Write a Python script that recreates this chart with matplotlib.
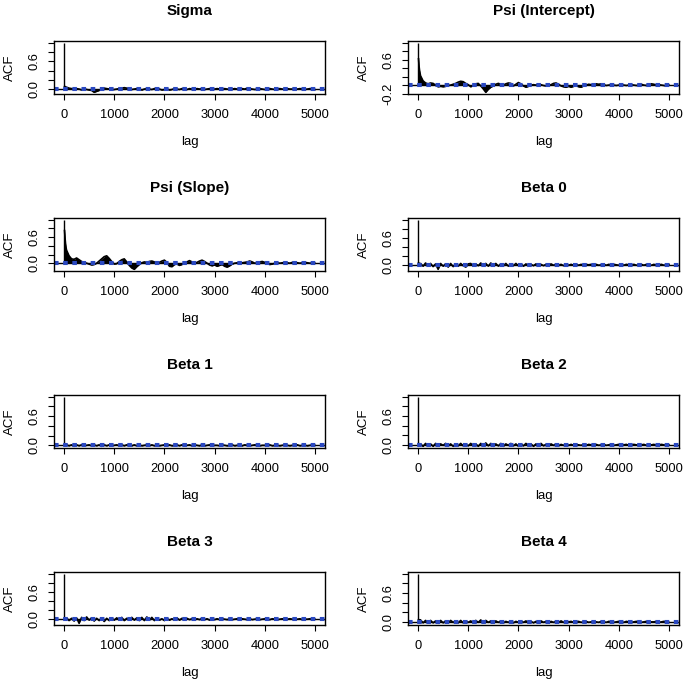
import matplotlib

matplotlib.use("Agg")
import matplotlib.pyplot as plt  # noqa: E402
import numpy as np  # noqa: E402

plt.rcParams["font.family"] = ["Liberation Sans", "DejaVu Sans"]

# lag grid: fine steps at the start, then every 50 lags up to 5000
LAGS = [0, 10, 20, 30, 40] + list(range(50, 5001, 50))

# ACF values (head = lags 0..40, then rows of 1000 lags)
acf_sigma = [1.0, 0.06, 0.05, 0.05, 0.04,
             0.04, 0.02, 0.01, -0.01, 0.01, 0.0, -0.02, 0.01, -0.01, -0.02, -0.03, -0.07, -0.05, -0.03, 0.0, 0.02, 0.01, 0.0, -0.01, -0.01,
             0.0, 0.01, 0.02, 0.03, 0.02, 0.01, -0.01, 0.0, 0.01, 0.0, -0.02, 0.0, 0.01, 0.0, -0.01, 0.01, 0.02, 0.0, -0.02, -0.01,
             0.0, -0.02, -0.01, 0.01, 0.0, -0.01, 0.01, 0.0, -0.01, 0.01, 0.0, -0.01, 0.01, 0.0, 0.01, -0.01, 0.0, 0.01, -0.01, 0.0,
             0.01, 0.0, -0.01, 0.01, 0.0, -0.01, 0.0, 0.01, 0.0, -0.01, 0.01, 0.0, 0.02, 0.01, 0.0, -0.01, 0.0, 0.01, 0.0, -0.01,
             0.0, 0.01, 0.0, -0.01, 0.0, 0.01, 0.0, -0.01, 0.01, 0.0, 0.0, -0.01, 0.0, 0.01, 0.0, -0.01, 0.0, 0.01, 0.0, -0.01]
acf_psi_int = [1.0, 0.62, 0.45, 0.35, 0.28,
               0.22, 0.1, 0.05, 0.03, 0.05, 0.04, 0.0, -0.04, -0.03, -0.04, -0.03, -0.01, 0.0, 0.02, 0.04, 0.07, 0.09, 0.08, 0.04, 0.01,
               -0.04, -0.01, 0.03, 0.04, -0.02, -0.09, -0.17, -0.1, -0.05, -0.02, 0.02, 0.04, 0.02, 0.0, 0.03, 0.05, 0.04, -0.02, 0.02, 0.06,
               0.03, -0.02, -0.05, -0.03, 0.0, 0.01, 0.0, 0.02, 0.01, -0.01, -0.02, -0.02, 0.01, 0.04, 0.05, 0.02, -0.02, -0.04, -0.05, -0.03,
               -0.05, -0.03, -0.01, -0.04, -0.05, -0.02, 0.0, 0.02, 0.01, 0.02, 0.03, 0.02, 0.03, 0.01, -0.01, 0.0, 0.01, 0.0, -0.01, 0.0,
               0.01, 0.0, -0.01, 0.0, 0.01, 0.0, -0.01, 0.0, 0.02, 0.0, -0.01, 0.02, 0.03, 0.02, 0.0, 0.01, 0.0, -0.01, -0.02, 0.0]
acf_psi_slope = [1.0, 0.75, 0.58, 0.45, 0.36,
                 0.3, 0.17, 0.1, 0.09, 0.12, 0.08, 0.04, 0.02, 0.0, -0.02, -0.04, -0.03, 0.0, 0.05, 0.1, 0.15, 0.17, 0.11, 0.04, -0.02,
                 -0.01, 0.04, 0.08, 0.1, 0.03, -0.05, -0.11, -0.14, -0.08, -0.03, 0.01, 0.03, 0.02, 0.04, 0.05, 0.03, 0.0, 0.02, 0.05, 0.07,
                 0.02, -0.07, -0.08, -0.03, -0.02, -0.05, -0.03, 0.01, 0.03, 0.06, 0.03, 0.0, 0.02, 0.05, 0.07, 0.04, 0.0, -0.04, -0.06, -0.04,
                 -0.07, -0.05, -0.03, -0.07, -0.09, -0.06, -0.02, 0.0, 0.01, 0.0, 0.01, 0.02, 0.03, 0.05, 0.03, 0.0, 0.01, 0.03, 0.04, 0.02,
                 -0.01, -0.03, -0.02, 0.0, 0.01, 0.0, 0.01, 0.02, 0.01, 0.0, 0.02, 0.03, 0.01, 0.0, 0.01, 0.02, 0.01, 0.0, 0.01, 0.0]
acf_beta0 = [1.0, 0.04, -0.02, 0.03, 0.01,
             0.03, -0.03, 0.04, -0.02, 0.03, -0.04, 0.02, -0.10, 0.03, -0.03, 0.02, -0.05, 0.03, -0.04, 0.02, -0.03, 0.03, -0.02, -0.05, 0.02,
             0.03, -0.03, 0.02, -0.02, 0.04, -0.02, 0.03, -0.03, 0.04, -0.02, 0.03, -0.03, 0.02, -0.02, 0.03, -0.03, 0.02, -0.02, 0.03, -0.02,
             0.02, -0.03, 0.02, -0.02, 0.01, -0.02, 0.02, -0.01, 0.01, -0.02, 0.01, -0.01, 0.02, -0.01, 0.01, -0.01, 0.01, -0.02, 0.01, -0.01,
             0.01, -0.01, 0.01, -0.01, 0.01, -0.01, 0.01, 0.0, 0.01, -0.01, 0.01, -0.01, 0.0, 0.01, -0.01, 0.01, -0.01, 0.01, 0.0, -0.01,
             0.01, -0.01, 0.01, 0.0, -0.01, 0.01, -0.01, 0.0, 0.01, -0.01, 0.01, 0.0, -0.01, 0.01, -0.01, 0.0, 0.01, -0.01, 0.0, 0.01]
acf_beta1 = [1.0, 0.02, 0.01, -0.01, 0.01,
             0.01, -0.01, 0.01, -0.02, 0.01, -0.01, 0.01, -0.01, 0.0, 0.01, -0.01, 0.01, -0.01, 0.01, -0.02, 0.01, -0.01, 0.01, -0.01, 0.0,
             0.01, -0.01, 0.01, -0.01, 0.01, 0.0, -0.01, 0.01, -0.01, 0.01, -0.01, 0.0, 0.01, -0.01, 0.01, -0.01, 0.01, -0.01, 0.0, 0.01,
             -0.01, 0.01, -0.01, 0.0, 0.01, -0.01, 0.01, -0.01, 0.0, 0.01, -0.01, 0.01, 0.0, -0.01, 0.01, -0.01, 0.0, 0.01, -0.01, 0.0,
             0.0, -0.01, 0.01, 0.0, -0.01, 0.0, 0.01, -0.01, 0.0, 0.0, -0.01, 0.01, 0.0, -0.01, 0.0, 0.01, 0.0, -0.01, 0.0, 0.0,
             0.0, 0.01, -0.01, 0.0, 0.0, -0.01, 0.0, 0.01, 0.0, -0.01, 0.0, 0.0, 0.01, -0.01, 0.0, 0.0, -0.01, 0.0, 0.01, 0.0]
acf_beta2 = [1.0, 0.03, 0.01, 0.02, -0.01,
             0.02, -0.03, 0.03, -0.02, 0.02, -0.03, 0.03, -0.02, 0.02, -0.01, 0.03, -0.02, 0.02, -0.03, 0.02, -0.02, 0.03, -0.02, 0.01, -0.02,
             0.03, -0.02, 0.02, -0.03, 0.03, -0.02, 0.04, -0.02, 0.03, -0.03, 0.02, -0.02, 0.03, -0.03, 0.02, -0.01, 0.03, -0.02, 0.02, -0.03,
             0.02, -0.02, 0.03, -0.02, 0.02, -0.03, 0.02, -0.02, 0.03, -0.02, 0.01, -0.02, 0.02, -0.01, 0.02, -0.02, 0.01, -0.01, 0.02, -0.01,
             0.01, -0.01, 0.01, 0.0, -0.01, 0.01, -0.01, 0.01, 0.0, -0.01, 0.01, -0.01, 0.0, 0.01, -0.01, 0.0, 0.01, -0.01, 0.0, 0.01,
             -0.01, 0.0, 0.01, -0.01, 0.0, 0.01, 0.0, -0.01, 0.0, 0.01, -0.01, 0.0, 0.0, 0.01, -0.01, 0.0, 0.01, 0.0, -0.01, 0.0]
acf_beta3 = [1.0, 0.02, -0.02, 0.03, -0.01,
             0.03, -0.03, 0.02, -0.04, 0.03, -0.09, 0.04, -0.03, 0.05, -0.02, 0.03, -0.04, 0.02, -0.03, 0.03, -0.05, 0.02, -0.03, 0.02, -0.02,
             0.03, -0.02, 0.04, -0.03, 0.02, -0.02, 0.04, -0.02, 0.03, -0.03, 0.04, -0.03, 0.05, -0.02, 0.04, -0.03, 0.02, -0.02, 0.01, -0.03,
             0.02, -0.02, 0.01, -0.02, 0.03, -0.02, 0.02, -0.01, 0.02, -0.01, 0.01, -0.02, 0.01, -0.01, 0.02, -0.01, 0.01, -0.02, 0.01, -0.01,
             0.01, -0.01, 0.01, 0.0, -0.01, 0.01, -0.01, 0.0, 0.01, -0.01, 0.01, 0.0, -0.01, 0.01, -0.01, 0.0, 0.01, -0.01, 0.0, 0.01,
             0.0, -0.01, 0.01, 0.0, -0.01, 0.0, 0.01, -0.01, 0.0, 0.01, 0.0, -0.01, 0.0, 0.01, -0.01, 0.0, 0.0, 0.01, -0.01, 0.0]
acf_beta4 = [1.0, 0.05, 0.03, 0.04, 0.02,
             0.04, -0.02, 0.03, -0.02, 0.03, -0.02, 0.02, -0.03, 0.03, -0.02, 0.02, -0.02, 0.03, -0.01, 0.02, -0.02, 0.03, -0.02, 0.02, -0.01,
             0.02, -0.02, 0.03, -0.01, 0.04, -0.02, 0.03, -0.01, 0.02, -0.02, 0.02, -0.01, 0.02, -0.02, 0.01, -0.01, 0.02, -0.02, 0.01, -0.01,
             0.02, -0.01, 0.02, -0.02, 0.01, -0.02, 0.01, -0.01, 0.02, -0.01, 0.01, -0.02, 0.01, -0.01, 0.01, -0.01, 0.02, -0.01, 0.01, 0.0,
             0.01, -0.01, 0.0, 0.01, -0.01, 0.0, 0.01, -0.01, 0.0, 0.01, 0.0, -0.01, 0.01, 0.0, -0.01, 0.01, 0.0, -0.01, 0.0, 0.01,
             0.0, -0.01, 0.01, 0.0, -0.01, 0.0, 0.01, 0.0, -0.01, 0.0, 0.01, -0.01, 0.0, 0.0, 0.01, -0.01, 0.0, 0.01, 0.0, -0.01]

titles = ["Sigma", "Psi (Intercept)", "Psi (Slope)", "Beta 0",
          "Beta 1", "Beta 2", "Beta 3", "Beta 4"]
series = [acf_sigma, acf_psi_int, acf_psi_slope, acf_beta0,
          acf_beta1, acf_beta2, acf_beta3, acf_beta4]
conf_limit = 0.02  # 95% band, drawn in blue dashes
x_ticks = [0, 1000, 2000, 3000, 4000, 5000]

W, H = 685, 681
fig = plt.figure(figsize=(W / 100, H / 100), dpi=100)

col_left = [54, 408]
row_top = [40.7, 217.7, 394.7, 571.7]
box_w, box_h = 271, 53.6

for i, (title, acf) in enumerate(zip(titles, series)):
    r, c = divmod(i, 2)
    ax = fig.add_axes([col_left[c] / W, 1 - (row_top[r] + box_h) / H, box_w / W, box_h / H])
    lags = np.array(LAGS)
    vals = np.array(acf)

    ax.fill_between(lags, 0, vals, color="black", lw=0)
    # outline from lag 10 on, so the lag-0 spike stays a thin line
    ax.plot(lags[1:], vals[1:], color="black", lw=1.2)
    ax.vlines(lags[0], 0, vals[0], color="black", lw=1.0)
    ax.axhline(0, color="black", lw=1.0)
    for s in (1, -1):
        ax.axhline(s * conf_limit, color="#2a48c0", lw=1.5, ls=(0, (2.2, 2.2)))

    # R style ranges: 4% padding
    lo = min(vals.min(), -conf_limit)
    hi = max(vals.max(), conf_limit)
    pad = 0.04 * (hi - lo)
    ax.set_ylim(lo - pad, hi + pad)
    ax.set_xlim(-200, 5200)

    ax.set_xticks(x_ticks)
    ax.set_xticklabels([str(t) for t in x_ticks], fontsize=9.3)
    if lo < -0.15:
        yt = [-0.2, 0.0, 0.2, 0.4, 0.6, 0.8, 1.0]
        ylab = ["-0.2", "", "", "", "0.6", "", ""]
    else:
        yt = [0.0, 0.2, 0.4, 0.6, 0.8, 1.0]
        ylab = ["0.0", "", "", "0.6", "", ""]
    ax.set_yticks(yt)
    ax.set_yticklabels(ylab, fontsize=9.3, rotation=90, va="center")
    ax.tick_params(length=4.5, width=0.8, color="black")
    ax.tick_params(axis="x", pad=6)
    ax.tick_params(axis="y", pad=5)
    for sp in ax.spines.values():
        sp.set_linewidth(1.0)

    ax.set_xlabel("lag", fontsize=9.5)
    ax.xaxis.set_label_coords(0.5, -0.78)
    ax.xaxis.label.set_va("top")
    ax.set_ylabel("ACF", fontsize=9.5)
    ax.yaxis.set_label_coords(-0.14, 0.5)
    ax.text(0.5, 1.48, title, transform=ax.transAxes, ha="center",
            va="baseline", fontsize=11, fontweight="bold")

fig.savefig("out.png", dpi=100)
